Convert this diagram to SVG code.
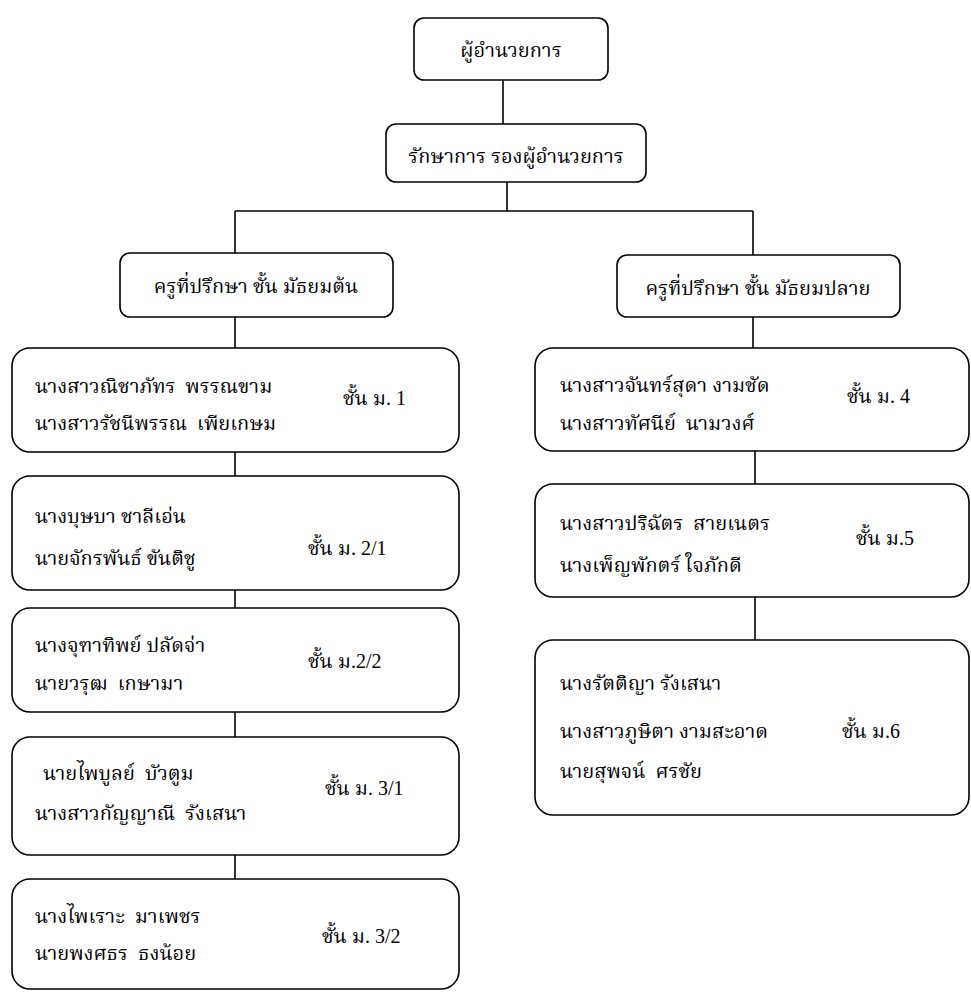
<svg xmlns="http://www.w3.org/2000/svg" width="971" height="992" viewBox="0 0 971 992">
<style>
rect{fill:#fff;stroke:#000;stroke-width:1.6}
.c line{stroke:#000;stroke-width:1.6}
text{font-family:"Liberation Serif","Noto Serif Thai","Noto Sans Thai",serif;font-size:20px;fill:#000;white-space:pre}
.m{text-anchor:middle}
</style>
<rect x="0" y="0" width="971" height="992" style="stroke:none"/>
<g class="c" id="connectors">
<line x1="503" y1="80" x2="503" y2="124"/>
<line x1="507" y1="182" x2="507" y2="211"/>
<line x1="235" y1="211" x2="753" y2="211"/>
<line x1="235" y1="211" x2="235" y2="253"/>
<line x1="753" y1="211" x2="753" y2="255"/>
<line x1="235" y1="317" x2="235" y2="348"/>
<line x1="753" y1="317" x2="753" y2="348"/>
<line x1="235" y1="452" x2="235" y2="476"/>
<line x1="235" y1="590" x2="235" y2="608"/>
<line x1="235" y1="712" x2="235" y2="737"/>
<line x1="235" y1="855" x2="235" y2="879"/>
<line x1="755" y1="451" x2="755" y2="484"/>
<line x1="755" y1="597" x2="755" y2="640"/>
</g>
<g id="director"><rect x="414" y="18" width="194" height="62" rx="10"/><text class="m" x="511" y="57">ผู้อำนวยการ</text></g>
<g id="deputy"><rect x="386" y="124" width="260" height="58" rx="10"/><text class="m" x="516" y="163">รักษาการ รองผู้อำนวยการ</text></g>
<g id="lower"><rect x="120" y="253" width="273" height="64" rx="10"/><text class="m" x="256" y="293">ครูที่ปรึกษา ชั้น มัธยมต้น</text></g>
<g id="upper"><rect x="617" y="255" width="283" height="62" rx="10"/><text class="m" x="758" y="295">ครูที่ปรึกษา ชั้น มัธยมปลาย</text></g>
<g id="m1"><rect x="12" y="348" width="447" height="104" rx="18"/>
<text x="35" y="393" xml:space="preserve">นางสาวณิชาภัทร  พรรณขาม</text><text x="35" y="430" xml:space="preserve">นางสาวรัชนีพรรณ  เพียเกษม</text><text x="343" y="405">ชั้น ม. 1</text></g>
<g id="m21"><rect x="12" y="476" width="447" height="114" rx="18"/>
<text x="35" y="523">นางบุษบา ชาลีเอ่น</text><text x="35" y="565">นายจักรพันธ์ ขันติชู</text><text x="308" y="555">ชั้น ม. 2/1</text></g>
<g id="m22"><rect x="12" y="608" width="447" height="104" rx="18"/>
<text x="35" y="652">นางจุฑาทิพย์ ปลัดจ่า</text><text x="35" y="690" xml:space="preserve">นายวรุฒ  เกษามา</text><text x="308" y="668">ชั้น ม.2/2</text></g>
<g id="m31"><rect x="12" y="737" width="447" height="118" rx="18"/>
<text x="43" y="780" xml:space="preserve">นายไพบูลย์  บัวตูม</text><text x="35" y="820" xml:space="preserve">นางสาวกัญญาณี  รังเสนา</text><text x="325" y="795">ชั้น ม. 3/1</text></g>
<g id="m32"><rect x="12" y="879" width="447" height="110" rx="18"/>
<text x="35" y="923" xml:space="preserve">นางไพเราะ  มาเพชร</text><text x="35" y="960" xml:space="preserve">นายพงศธร  ธงน้อย</text><text x="322" y="943">ชั้น ม. 3/2</text></g>
<g id="m4"><rect x="535" y="348" width="434" height="103" rx="18"/>
<text x="560" y="392">นางสาวจันทร์สุดา งามชัด</text><text x="560" y="430" xml:space="preserve">นางสาวทัศนีย์  นามวงศ์</text><text x="847" y="403">ชั้น ม. 4</text></g>
<g id="m5"><rect x="535" y="484" width="434" height="113" rx="18"/>
<text x="560" y="530" xml:space="preserve">นางสาวปริฉัตร  สายเนตร</text><text x="560" y="572">นางเพ็ญพักตร์ ใจภักดี</text><text x="856" y="545">ชั้น ม.5</text></g>
<g id="m6"><rect x="535" y="640" width="434" height="175" rx="18"/>
<text x="560" y="690">นางรัตติญา รังเสนา</text><text x="560" y="738">นางสาวภูษิตา งามสะอาด</text><text x="560" y="778" xml:space="preserve">นายสุพจน์  ศรชัย</text><text x="842" y="738">ชั้น ม.6</text></g>
</svg>
